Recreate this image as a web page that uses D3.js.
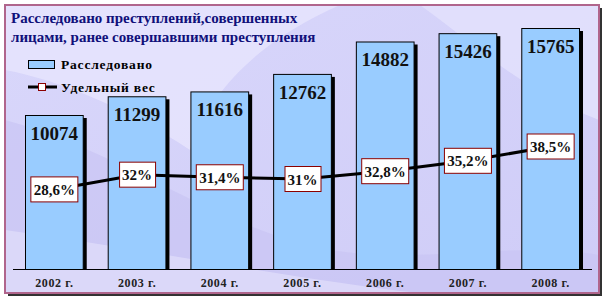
<!DOCTYPE html>
<html>
<head>
<meta charset="utf-8">
<script src="https://cdn.jsdelivr.net/npm/d3@7"></script>
<style>
  body { margin: 0; background: #fff; }
  svg { display: block; }
</style>
</head>
<body>
<svg width="607" height="301"></svg>
<script>
let years = ['2002 г.', '2003 г.', '2004 г.', '2005 г.', '2006 г.', '2007 г.', '2008 г.'];
let solved = [10074, 11299, 11616, 12762, 14882, 15426, 15765];
let share = [28.6, 32, 31.4, 31, 32.8, 35.2, 38.5];
let shareLabels = ['28,6%', '32%', '31,4%', '31%', '32,8%', '35,2%', '38,5%'];
let titleLines = ['Расследовано преступлений,совершенных', 'лицами, ранее совершавшими преступления'];
let legendNames = ['Расследовано', 'Удельный вес'];

let serif = "'Liberation Serif', 'Times New Roman', 'DejaVu Serif', serif";
let baseY = 269;
let svg = d3.select('svg');

// frame & background
let defs = svg.append('defs');
let grad = defs.append('linearGradient').attr('id', 'bg')
  .attr('x1', 0).attr('y1', 0).attr('x2', 1).attr('y2', 1);
grad.append('stop').attr('offset', 0).attr('stop-color', '#d9d7fb');
grad.append('stop').attr('offset', 1).attr('stop-color', '#cfccf7');
defs.append('clipPath').attr('id', 'frameClip')
  .append('rect').attr('x', 5).attr('y', 5).attr('width', 594).attr('height', 288);

svg.append('rect').attr('x', 8).attr('y', 8).attr('width', 594).attr('height', 288)
  .style('fill', '#333');
svg.append('rect').attr('x', 5).attr('y', 5).attr('width', 594).attr('height', 288)
  .style('fill', 'url(#bg)');

let deco = svg.append('g').attr('clip-path', 'url(#frameClip)');
deco.append('path')
  .attr('d', 'M5,5 L340,5 C260,40 210,90 190,150 C130,110 60,80 5,70 Z')
  .style('fill', '#e6e4fd').style('opacity', 0.85);
deco.append('path')
  .attr('d', 'M5,120 C120,150 220,230 330,250 C420,265 520,240 599,255 L599,293 L5,293 Z')
  .style('fill', '#c9c5f3').style('opacity', 0.7);
deco.append('path')
  .attr('d', 'M420,5 C470,40 520,90 599,120 L599,5 Z')
  .style('fill', '#e4e2fc').style('opacity', 0.8);
deco.append('path')
  .attr('d', 'M5,230 C150,250 300,280 420,293 L5,293 Z')
  .style('fill', '#dedcfa').style('opacity', 0.8);

svg.append('rect').attr('x', 5).attr('y', 5).attr('width', 594).attr('height', 288)
  .style('fill', 'none').style('stroke', '#b0658c').style('stroke-width', 2);

// scales
let x = d3.scaleBand().domain(years).range([13, 592]).paddingInner(0.29).paddingOuter(0.145);
let y = d3.scaleLinear().domain([0, 15765]).range([baseY, 28]);
let y2 = d3.scaleLinear().domain([10, 40]).range([270, 140]);

// title
svg.append('g').selectAll('text').data(titleLines).join('text')
  .attr('x', 11)
  .attr('y', function(d, i) { return 23 + i * 19; })
  .style('font-family', serif)
  .style('font-weight', 'bold')
  .style('font-size', '15px')
  .style('fill', '#10107a')
  .text(function(d) { return d; });

// legend
let lg = svg.append('g');
lg.append('rect').attr('x', 28.5).attr('y', 60.5).attr('width', 26).attr('height', 8)
  .style('fill', '#99ccff').style('stroke', '#000');
lg.append('line').attr('x1', 28).attr('x2', 57).attr('y1', 87).attr('y2', 87)
  .style('stroke', '#000').style('stroke-width', 3);
lg.append('rect').attr('x', 38.5).attr('y', 83.5).attr('width', 7).attr('height', 7)
  .style('fill', '#fff').style('stroke', '#8b0000');
lg.selectAll('text').data(legendNames).join('text')
  .attr('x', 61)
  .attr('y', function(d, i) { return 69 + i * 23; })
  .style('font-family', serif)
  .style('font-weight', 'bold')
  .style('font-size', '13.5px')
  .style('letter-spacing', '0.8px')
  .style('fill', '#000')
  .text(function(d) { return d; });

// bars
let bars = svg.append('g');
bars.selectAll('rect.shadow').data(solved).join('rect')
  .attr('class', 'shadow')
  .attr('x', function(d, i) { return x(years[i]) + 3; })
  .attr('y', function(d) { return y(d) + 3; })
  .attr('width', x.bandwidth())
  .attr('height', function(d) { return baseY - y(d) - 3; })
  .style('fill', '#000');
bars.selectAll('rect.bar').data(solved).join('rect')
  .attr('class', 'bar')
  .attr('x', function(d, i) { return x(years[i]) + 0.5; })
  .attr('y', function(d) { return y(d) + 0.5; })
  .attr('width', x.bandwidth() - 1)
  .attr('height', function(d) { return baseY - y(d); })
  .style('fill', '#99ccff')
  .style('stroke', '#000');
bars.selectAll('text').data(solved).join('text')
  .attr('x', function(d, i) { return x(years[i]) + x.bandwidth() / 2; })
  .attr('y', function(d) { return y(d) + 25; })
  .attr('text-anchor', 'middle')
  .style('font-family', serif)
  .style('font-weight', 'bold')
  .style('font-size', '19px')
  .style('fill', '#111')
  .text(function(d) { return d; });

// axis
let axis = svg.append('g').attr('transform', 'translate(0,' + baseY + ')')
  .call(d3.axisBottom(x).tickSize(0).tickPadding(9));
axis.select('.domain').attr('d', 'M13,0.5H592').style('stroke', '#000');
axis.selectAll('text')
  .style('font-family', serif)
  .style('font-weight', 'bold')
  .style('font-size', '12px')
  .style('fill', '#222')
  .style('letter-spacing', '0.6px');

// line
let line = d3.line()
  .x(function(d, i) { return x(years[i]) + x.bandwidth() / 2; })
  .y(function(d) { return y2(d); });
svg.append('path').datum(share)
  .attr('d', line)
  .style('fill', 'none')
  .style('stroke', '#000')
  .style('stroke-width', 3);

let lbl = svg.append('g').selectAll('g').data(share).join('g')
  .attr('transform', function(d, i) {
    return 'translate(' + (x(years[i]) + x.bandwidth() / 2) + ',' + y2(d) + ')';
  });
lbl.append('text')
  .attr('text-anchor', 'middle')
  .attr('y', 5.5)
  .style('font-family', serif)
  .style('font-weight', 'bold')
  .style('font-size', '15px')
  .style('fill', '#111')
  .text(function(d, i) { return shareLabels[i]; })
  .each(function() {
    let b = this.getBBox();
    d3.select(this.parentNode).insert('rect', 'text')
      .attr('x', Math.round(b.x - 3) + 0.5)
      .attr('y', -12.5)
      .attr('width', Math.round(b.width + 6))
      .attr('height', 25)
      .style('fill', '#fff')
      .style('stroke', '#8b0000');
  });
</script>
</body>
</html>
